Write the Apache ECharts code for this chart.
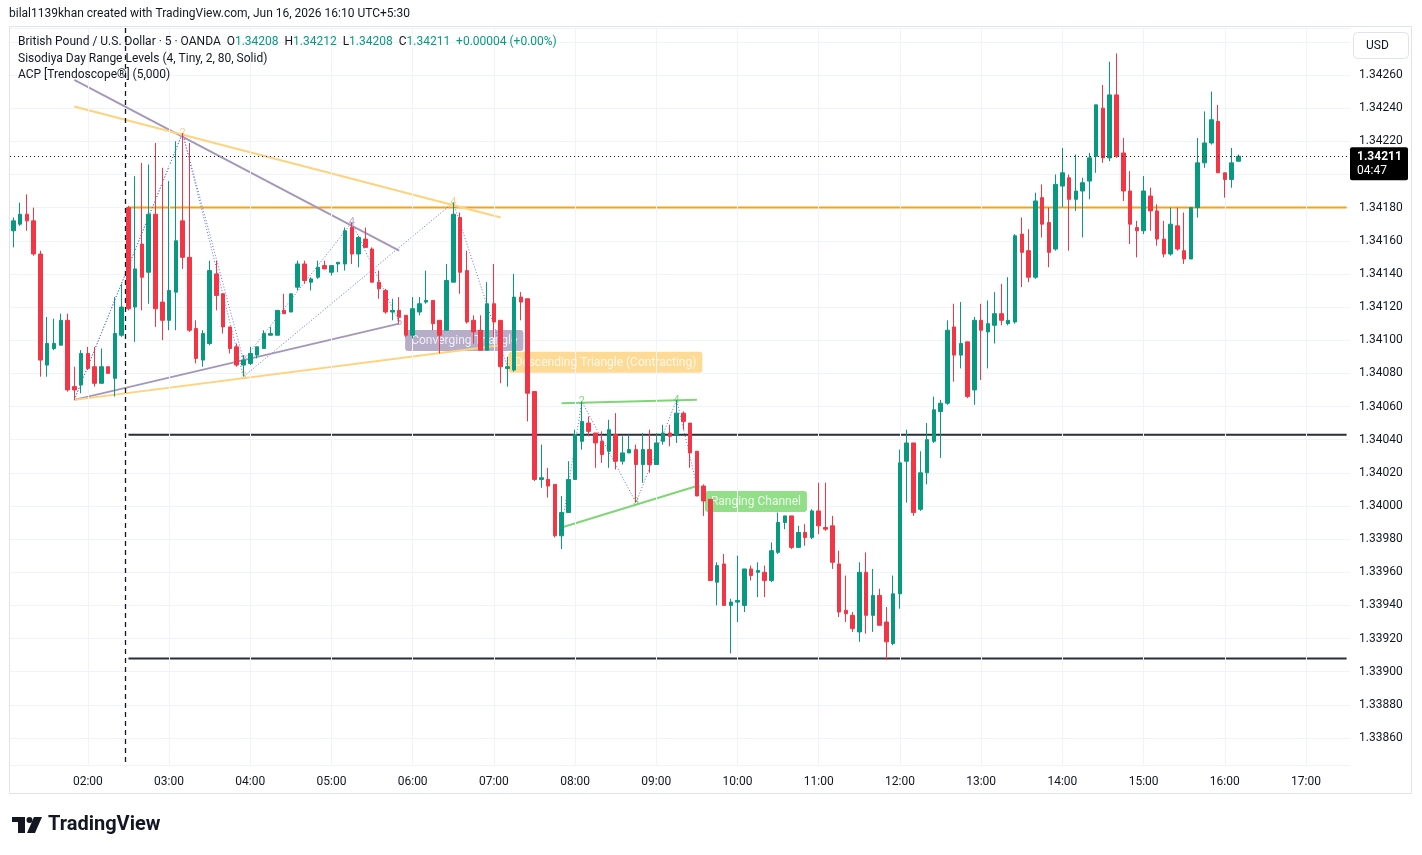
<!DOCTYPE html>
<html><head><meta charset="utf-8">
<script src="https://cdn.jsdelivr.net/npm/echarts@6/dist/echarts.min.js"></script>
<style>html,body{margin:0;padding:0;background:#fff;}#c{width:1422px;height:855px;}</style>
</head><body><div id="c"></div>
<script>
// ---- time slots (5-minute bars) ----
const startTime = '01:05';
const barMinutes = 5;
const slotCount = 198;
const hourLabels = ['02:00','03:00','04:00','05:00','06:00','07:00','08:00','09:00','10:00','11:00','12:00','13:00','14:00','15:00','16:00','17:00'];
const sessionBreak = '02:30';

// ---- OHLC values (GBP/USD, 5m, OANDA) ----
const opens = [1.34166,1.34170,1.34176,1.34172,1.34152,1.34085,1.34095,1.34097,1.34112,1.34072,1.34073,1.34092,1.34084,1.34074,1.34084,1.34077,1.34103,1.34180,1.34120,1.34158,1.34141,1.34176,1.34123,1.34112,1.34129,1.34172,1.34150,1.34107,1.34088,1.34098,1.34140,1.34128,1.34108,1.34096,1.34085,1.34086,1.34091,1.34095,1.34103,1.34103,1.34118,1.34117,1.34132,1.34146,1.34135,1.34138,1.34145,1.34141,1.34146,1.34146,1.34168,1.34152,1.34161,1.34155,1.34135,1.34130,1.34117,1.34118,1.34115,1.34103,1.34117,1.34123,1.34124,1.34112,1.34106,1.34135,1.34174,1.34142,1.34112,1.34106,1.34094,1.34122,1.34112,1.34083,1.34082,1.34126,1.34125,1.34069,1.34016,1.34016,1.34013,1.33982,1.33996,1.34016,1.34039,1.34050,1.34044,1.34039,1.34033,1.34043,1.34027,1.34032,1.34034,1.34025,1.34034,1.34025,1.34039,1.34044,1.34043,1.34056,1.34050,1.34033,1.34012,1.34004,1.33954,1.33965,1.33940,1.33942,1.33940,1.33962,1.33960,1.33960,1.33955,1.33972,1.33990,1.33994,1.33975,1.33984,1.33981,1.33997,1.33987,1.33988,1.33965,1.33937,1.33934,1.33924,1.33960,1.33934,1.33946,1.33930,1.33917,1.33947,1.34027,1.34038,1.33998,1.34020,1.34039,1.34057,1.34062,1.34108,1.34091,1.34099,1.34070,1.34112,1.34105,1.34109,1.34116,1.34110,1.34111,1.34164,1.34154,1.34138,1.34186,1.34171,1.34155,1.34193,1.34198,1.34185,1.34190,1.34196,1.34211,1.34240,1.34210,1.34248,1.34213,1.34190,1.34168,1.34166,1.34187,1.34178,1.34161,1.34152,1.34169,1.34154,1.34149,1.34180,1.34207,1.34219,1.34232,1.34201,1.34197,1.34208];
const highs = [1.34174,1.34183,1.34188,1.34180,1.34154,1.34114,1.34113,1.34116,1.34116,1.34084,1.34094,1.34096,1.34096,1.34095,1.34084,1.34126,1.34134,1.34181,1.34199,1.34207,1.34206,1.34219,1.34204,1.34196,1.34220,1.34225,1.34219,1.34112,1.34106,1.34148,1.34148,1.34128,1.34108,1.34098,1.34091,1.34096,1.34096,1.34106,1.34108,1.34118,1.34128,1.34128,1.34148,1.34148,1.34138,1.34148,1.34148,1.34145,1.34147,1.34168,1.34171,1.34163,1.34168,1.34156,1.34142,1.34131,1.34125,1.34126,1.34115,1.34126,1.34126,1.34142,1.34124,1.34112,1.34146,1.34183,1.34177,1.34154,1.34115,1.34115,1.34135,1.34146,1.34112,1.34090,1.34140,1.34129,1.34125,1.34069,1.34037,1.34023,1.34013,1.34006,1.34027,1.34046,1.34063,1.34054,1.34044,1.34045,1.34052,1.34056,1.34042,1.34043,1.34037,1.34044,1.34046,1.34044,1.34049,1.34049,1.34064,1.34057,1.34050,1.34033,1.34013,1.34004,1.33966,1.33971,1.33944,1.33970,1.33962,1.33964,1.33966,1.33964,1.33978,1.33996,1.33994,1.33994,1.33988,1.33989,1.33998,1.34014,1.34014,1.33994,1.33973,1.33958,1.33936,1.33966,1.33972,1.33962,1.33950,1.33939,1.33958,1.34034,1.34046,1.34038,1.34033,1.34050,1.34066,1.34064,1.34112,1.34122,1.34123,1.34099,1.34114,1.34122,1.34124,1.34129,1.34134,1.34138,1.34164,1.34174,1.34167,1.34189,1.34194,1.34180,1.34200,1.34216,1.34200,1.34212,1.34198,1.34213,1.34242,1.34254,1.34268,1.34273,1.34222,1.34202,1.34172,1.34199,1.34192,1.34182,1.34172,1.34180,1.34180,1.34177,1.34180,1.34222,1.34238,1.34250,1.34242,1.34201,1.34216,1.34212];
const lows = [1.34156,1.34169,1.34166,1.34151,1.34078,1.34078,1.34094,1.34097,1.34069,1.34064,1.34068,1.34082,1.34072,1.34074,1.34080,1.34066,1.34102,1.34118,1.34099,1.34118,1.34122,1.34108,1.34100,1.34106,1.34106,1.34143,1.34105,1.34086,1.34084,1.34097,1.34118,1.34104,1.34092,1.34084,1.34078,1.34085,1.34089,1.34095,1.34103,1.34103,1.34116,1.34117,1.34130,1.34134,1.34130,1.34137,1.34143,1.34139,1.34141,1.34142,1.34146,1.34144,1.34156,1.34135,1.34125,1.34116,1.34112,1.34110,1.34102,1.34101,1.34115,1.34122,1.34106,1.34092,1.34106,1.34135,1.34128,1.34110,1.34098,1.34094,1.34094,1.34102,1.34074,1.34072,1.34081,1.34112,1.34051,1.34015,1.34011,1.34005,1.33981,1.33974,1.33996,1.34016,1.34034,1.34042,1.34023,1.34026,1.34023,1.34022,1.34025,1.34032,1.34002,1.34014,1.34020,1.34025,1.34037,1.34036,1.34038,1.34046,1.34023,1.34006,1.33994,1.33955,1.33940,1.33940,1.33911,1.33930,1.33936,1.33955,1.33945,1.33945,1.33954,1.33971,1.33986,1.33974,1.33975,1.33976,1.33980,1.33983,1.33985,1.33962,1.33933,1.33930,1.33924,1.33918,1.33923,1.33924,1.33928,1.33907,1.33916,1.33938,1.34002,1.33994,1.33997,1.34013,1.34038,1.34029,1.34061,1.34075,1.34083,1.34065,1.34061,1.34076,1.34083,1.34098,1.34109,1.34109,1.34110,1.34132,1.34135,1.34137,1.34162,1.34144,1.34154,1.34180,1.34154,1.34178,1.34162,1.34185,1.34201,1.34207,1.34208,1.34210,1.34184,1.34158,1.34150,1.34164,1.34166,1.34157,1.34150,1.34151,1.34154,1.34146,1.34149,1.34174,1.34204,1.34218,1.34201,1.34186,1.34192,1.34208];
const closes = [1.34172,1.34176,1.34172,1.34152,1.34088,1.34098,1.34098,1.34112,1.34070,1.34070,1.34092,1.34083,1.34074,1.34084,1.34080,1.34104,1.34120,1.34119,1.34143,1.34138,1.34176,1.34119,1.34112,1.34130,1.34160,1.34150,1.34106,1.34089,1.34104,1.34142,1.34127,1.34108,1.34095,1.34085,1.34088,1.34092,1.34096,1.34104,1.34104,1.34118,1.34116,1.34128,1.34146,1.34136,1.34137,1.34144,1.34143,1.34145,1.34147,1.34166,1.34152,1.34162,1.34156,1.34135,1.34131,1.34117,1.34118,1.34114,1.34103,1.34119,1.34122,1.34124,1.34110,1.34103,1.34136,1.34176,1.34141,1.34111,1.34105,1.34094,1.34122,1.34111,1.34084,1.34084,1.34126,1.34123,1.34068,1.34016,1.34017,1.34012,1.33982,1.33996,1.34016,1.34043,1.34051,1.34045,1.34038,1.34031,1.34046,1.34027,1.34032,1.34034,1.34025,1.34034,1.34025,1.34038,1.34044,1.34042,1.34056,1.34051,1.34032,1.34006,1.34003,1.33955,1.33964,1.33940,1.33942,1.33943,1.33962,1.33958,1.33961,1.33955,1.33973,1.33990,1.33994,1.33975,1.33984,1.33981,1.33997,1.33988,1.33986,1.33966,1.33936,1.33935,1.33926,1.33960,1.33934,1.33946,1.33928,1.33918,1.33947,1.34026,1.34038,1.33996,1.34020,1.34040,1.34058,1.34062,1.34106,1.34091,1.34098,1.34066,1.34112,1.34106,1.34110,1.34116,1.34112,1.34112,1.34163,1.34153,1.34138,1.34184,1.34170,1.34153,1.34194,1.34201,1.34185,1.34190,1.34195,1.34210,1.34242,1.34210,1.34248,1.34211,1.34190,1.34170,1.34166,1.34190,1.34178,1.34161,1.34152,1.34170,1.34155,1.34149,1.34180,1.34207,1.34219,1.34233,1.34201,1.34197,1.34207,1.34211];

// ---- price axis ----
const priceMin = 1.3384371;
const priceMax = 1.3428836;
const priceStep = 0.0002;
const lastPrice = 1.34211;
const countdown = '04:47';

// ---- Sisodiya day range levels ----
const levelOrange = 1.34180;
const levelsBlack = [1.34043, 1.33908];
const levelsEnd = '17:30';

// ---- ACP patterns ----
const convUpper = [['01:50',1.34257],['05:50',1.34154]];
const convLower = [['01:50',1.34064],['05:50',1.34110]];
const convZigzag = [['01:50',1.34064],['03:10',1.34225],['03:55',1.34088],['05:15',1.34171],['05:50',1.34111]];
const descUpper = [['01:50',1.34241],['07:05',1.34174]];
const descLower = [['01:50',1.34064],['07:05',1.34097]];
const descZigzag = [['01:50',1.34064],['03:10',1.34225],['03:55',1.34078],['06:30',1.34183],['07:10',1.34084]];
const rangeUpper = [['07:50',1.34062],['09:30',1.34064]];
const rangeLower = [['07:50',1.33987],['09:30',1.34012]];
const rangeZigzag = [['07:50',1.33987],['08:05',1.34063],['08:45',1.34002],['09:15',1.34064],['09:30',1.34012]];
const convNumbers = [['3',2],['4',3],['5',4]];
const descNumbers = [['2',1],['3',2],['4',3]];
const rangeNumbers = [['2',1],['3',2],['4',3],['5',4]];

const FONT = 'Roboto, "Noto Sans", sans-serif';
const TXT = '#131722';
const GREEN = '#089981', RED = '#f23645';
const C_CONV = '#a498ba', C_DESC = '#ffd27c', C_RANGE = '#7fd676', C_ZIG = '#5a72f2';

function buildCategories() {
  const [h, m] = startTime.split(':').map(Number);
  const out = [];
  for (let i = 0; i < slotCount; i++) {
    const t = h * 60 + m + i * barMinutes;
    out.push(String(Math.floor(t / 60) % 24).padStart(2, '0') + ':' + String(t % 60).padStart(2, '0'));
  }
  return out;
}
const cats = buildCategories();
const candles = opens.map((o, i) => [o, closes[i], lows[i], highs[i]]);
const breakIdx = cats.indexOf(sessionBreak);

function seg(data, color, width, type, z) {
  return { type: 'line', data, symbol: 'none', silent: true, z: z || 2, animation: false,
    lineStyle: { color, width, type: type || 'solid' } };
}
function numbers(zig, list, color) {
  return { type: 'scatter', symbolSize: 0, silent: true, z: 3, animation: false,
    data: list.map(([t, k]) => ({ value: zig[k],
      label: { show: true, formatter: t, position: 'inside', color, fontSize: 11, fontFamily: FONT } })) };
}
function patLabel(pt, text, bg, offset) {
  return { type: 'scatter', symbolSize: 0, silent: true, z: 1, animation: false,
    data: [{ value: pt, label: { show: true, formatter: text, position: offset, color: '#ffffff',
      backgroundColor: bg, padding: [5, 6, 4, 6], borderRadius: 3, fontSize: 12, fontFamily: FONT } }] };
}

const chart = echarts.init(document.getElementById('c'), null, { renderer: 'canvas' });
chart.setOption({
  animation: false,
  backgroundColor: '#ffffff',
  grid: { left: 10, right: 72, top: 28, bottom: 90, containLabel: false },
  xAxis: {
    type: 'category', data: cats, boundaryGap: true,
    axisLine: { show: false }, axisTick: { show: false },
    axisLabel: { interval: (i, v) => v.endsWith(':00'), color: TXT, fontSize: 12, fontFamily: FONT, margin: 11 },
    splitLine: { show: false }
  },
  yAxis: {
    type: 'value', position: 'right', min: priceMin, max: priceMax,
    splitNumber: 22, minInterval: priceStep, maxInterval: priceStep,
    axisLine: { show: false }, axisTick: { show: false },
    axisLabel: { color: TXT, fontSize: 12, fontFamily: FONT, margin: 9, showMinLabel: false, showMaxLabel: false,
      formatter: v => v.toFixed(5) },
    splitLine: { lineStyle: { color: '#f0f3fa', width: 1 } }
  },
  series: [
    { type: 'line', data: [], z: 0, silent: true,
      markLine: { symbol: ['none', 'none'], silent: true, animation: false, label: { show: false },
        lineStyle: { color: '#f0f3fa', width: 1, type: 'solid' },
        data: hourLabels.map(h => ({ xAxis: h })) } },
    seg([[sessionBreak, levelOrange], [levelsEnd, levelOrange]], '#f7a11a', 2, 'solid', 2),
    seg([[sessionBreak, levelsBlack[0]], [levelsEnd, levelsBlack[0]]], '#2a2e39', 2, 'solid', 2),
    seg([[sessionBreak, levelsBlack[1]], [levelsEnd, levelsBlack[1]]], '#2a2e39', 2, 'solid', 2),
    patLabel(convZigzag[4], 'Converging Triangle', C_CONV, [6, 8]),
    patLabel(descZigzag[4], 'Descending Triangle (Contracting)', '#fdd27a', [1, -15]),
    patLabel(rangeZigzag[4], 'Ranging Channel', '#78d76c', [8, 5]),
    seg(convZigzag, C_ZIG, 1, [1, 2], 2),
    seg(descZigzag, C_ZIG, 1, [1, 2], 2),
    seg(rangeZigzag, C_ZIG, 1, [1, 2], 2),
    seg(convUpper, C_CONV, 2), seg(convLower, C_CONV, 2),
    seg(descUpper, C_DESC, 2), seg(descLower, C_DESC, 2),
    seg(rangeUpper, C_RANGE, 2), seg(rangeLower, C_RANGE, 2),
    numbers(convZigzag, convNumbers, C_CONV),
    numbers(descZigzag, descNumbers, '#f5c66a'),
    numbers(rangeZigzag, rangeNumbers, '#6cc964'),
    { type: 'candlestick', data: candles, z: 5, barWidth: 4, silent: true,
      itemStyle: { color: GREEN, color0: RED, borderColor: GREEN, borderColor0: RED, borderWidth: 1 } }
  ]
});

const py = chart.convertToPixel({ yAxisIndex: 0 }, lastPrice);
const bx = (chart.convertToPixel({ xAxisIndex: 0 }, cats[breakIdx - 1]) + chart.convertToPixel({ xAxisIndex: 0 }, cats[breakIdx])) / 2;
const pyl = Math.round(py) + 0.5;
chart.setOption({
  graphic: [
    { type: 'rect', silent: true, z: 0, shape: { x: 9.5, y: 26.5, width: 1402, height: 767 },
      style: { fill: 'none', stroke: '#e0e3eb', lineWidth: 1 } },
    { type: 'line', silent: true, z: 4, shape: { x1: Math.round(bx) + 0.5, y1: 28, x2: Math.round(bx) + 0.5, y2: 765 },
      style: { stroke: '#131722', lineWidth: 1.3, lineDash: [5, 4] } },
    { type: 'line', silent: true, z: 6, shape: { x1: 10, y1: pyl, x2: 1350, y2: pyl },
      style: { stroke: '#131722', lineWidth: 1, lineDash: [1, 3] } },
    { type: 'text', x: 9, y: 14, silent: true, style: { text: 'bilal1139khan created with TradingView.com, Jun 16, 2026 16:10 UTC+5:30',
      fill: TXT, font: '12px ' + FONT, verticalAlign: 'middle' } },
    { type: 'text', x: 18, y: 42, silent: true, z: 10, style: {
      text: '{b|British Pound / U.S. Dollar · 5 · OANDA}  {b|O}{g|1.34208}  {b|H}{g|1.34212}  {b|L}{g|1.34208}  {b|C}{g|1.34211}  {g|+0.00004 (+0.00%)}',
      verticalAlign: 'middle', font: '12px ' + FONT,
      rich: { b: { fill: TXT, font: '12px ' + FONT }, g: { fill: GREEN, font: '12px ' + FONT } } } },
    { type: 'text', x: 18, y: 59, silent: true, z: 10, style: { text: 'Sisodiya Day Range Levels (4, Tiny, 2, 80, Solid)', fill: TXT, font: '12px ' + FONT, verticalAlign: 'middle' } },
    { type: 'text', x: 18, y: 75, silent: true, z: 10, style: { text: 'ACP [Trendoscope®] (5,000)', fill: TXT, font: '12px ' + FONT, verticalAlign: 'middle' } },
    { type: 'rect', silent: true, z: 10, shape: { x: 1353.5, y: 32.5, width: 55, height: 26, r: 4 },
      style: { fill: '#ffffff', stroke: '#e0e3eb', lineWidth: 1 } },
    { type: 'text', x: 1366, y: 46, silent: true, z: 11, style: { text: 'USD', fill: TXT, font: '12px ' + FONT, verticalAlign: 'middle' } },
    { type: 'rect', silent: true, z: 10, shape: { x: 1350, y: py - 9, width: 58, height: 33, r: 2 }, style: { fill: '#000000' } },
    { type: 'text', x: 1357, y: py + 1, silent: true, z: 11, style: { text: lastPrice.toFixed(5), fill: '#ffffff', font: 'bold 12px ' + FONT, verticalAlign: 'middle' } },
    { type: 'text', x: 1357, y: py + 15, silent: true, z: 11, style: { text: countdown, fill: '#ffffff', font: '12px ' + FONT, verticalAlign: 'middle' } },
    // TradingView logo
    { type: 'rect', silent: true, shape: { x: 12, y: 817, width: 13, height: 5 }, style: { fill: '#131722' } },
    { type: 'rect', silent: true, shape: { x: 18, y: 817, width: 7, height: 16 }, style: { fill: '#131722' } },
    { type: 'circle', silent: true, shape: { cx: 29.5, cy: 820, r: 3 }, style: { fill: '#131722' } },
    { type: 'polygon', silent: true, shape: { points: [[34, 817], [42, 817], [35, 833], [27, 833]] }, style: { fill: '#131722' } },
    { type: 'text', x: 48, y: 825, silent: true, style: { text: 'TradingView', fill: '#131722', font: 'bold 20px ' + FONT, verticalAlign: 'middle' } }
  ]
});
</script></body></html>
